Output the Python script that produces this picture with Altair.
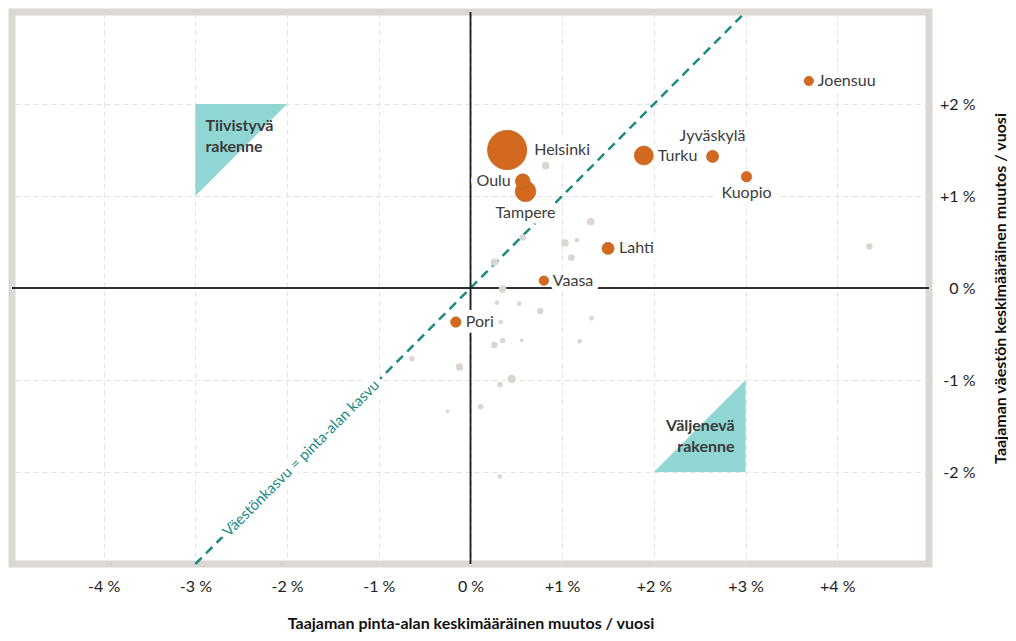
import altair as alt
import pandas as pd

# ---- data ----
CITY_NAMES = ["Helsinki", "Tampere", "Oulu", "Turku", "Jyväskylä", "Kuopio",
              "Lahti", "Vaasa", "Pori", "Joensuu"]
CITY_AREA_CHANGE = [0.40, 0.60, 0.57, 1.89, 2.64, 3.01, 1.50, 0.80, -0.16, 3.69]
CITY_POP_CHANGE = [1.50, 1.05, 1.16, 1.44, 1.43, 1.21, 0.43, 0.08, -0.37, 2.25]
CITY_POP = [1200, 330, 170, 280, 115, 85, 115, 70, 85, 70]

OTHER_AREA_CHANGE = [0.82, 1.31, 0.57, 1.03, 1.16, 1.10, 0.26, 0.35, 4.35, 0.29,
                     0.53, 0.76, 1.32, 0.33, 0.26, 0.35, 0.56, 1.19, -0.64, -0.12,
                     0.45, 0.32, 0.11, -0.25, 0.32]
OTHER_POP_CHANGE = [1.33, 0.72, 0.55, 0.49, 0.52, 0.33, 0.28, -0.01, 0.45, -0.16,
                    -0.17, -0.25, -0.33, -0.37, -0.62, -0.57, -0.57, -0.58, -0.77, -0.86,
                    -0.99, -1.05, -1.29, -1.34, -2.05]
OTHER_POP = [44, 44, 33, 44, 17, 33, 44, 44, 33, 17,
             17, 33, 17, 17, 33, 24, 11, 17, 24, 44,
             55, 24, 24, 11, 17]

DIAG_X = [-3, 3]
DIAG_Y = [-3, 3]
DIAG_LABEL = "Väestönkasvu = pinta-alan kasvu"
DIAG_LABEL_AT = [-1.85]

TRI_ID = ["dense", "dense", "sparse", "sparse"]
TRI_X = [-3, -2, 2, 3]
TRI_Y = [2, 2, -2, -2]
TRI_Y2 = [1, 2, -2, -1]
TRI_LABELS = ["Tiivistyvä\nrakenne", "Väljenevä\nrakenne"]
TRI_LABEL_X = [-3, 3]
TRI_LABEL_Y = [2, -2]

X_TICKS = [-4, -3, -2, -1, 0, 1, 2, 3, 4]
X_TICK_LABELS = ["-4 %", "-3 %", "-2 %", "-1 %", "0 %", "+1 %", "+2 %", "+3 %", "+4 %"]
Y_TICKS = [-2, -1, 0, 1, 2]
Y_TICK_LABELS = ["-2 %", "-1 %", "0 %", "+1 %", "+2 %"]
X_TITLE = "Taajaman pinta-alan keskimääräinen muutos / vuosi"
Y_TITLE = "Taajaman väestön keskimääräinen muutos / vuosi"

# ---- styling ----
FONT = "Lato"
ORANGE = "#d2691e"
GREY_PT = "#dbd6d1"
TEAL = "#1d8a84"
TRI_FILL = "#90d6d3"
FRAME = "#dcd7d1"
W, H = 917, 552

cities = pd.DataFrame({"name": CITY_NAMES, "x": CITY_AREA_CHANGE,
                       "y": CITY_POP_CHANGE, "pop": CITY_POP})
others = pd.DataFrame({"x": OTHER_AREA_CHANGE, "y": OTHER_POP_CHANGE, "pop": OTHER_POP})
diag = pd.DataFrame({"x": DIAG_X, "y": DIAG_Y})
diag_lab = pd.DataFrame({"x": DIAG_LABEL_AT, "y": DIAG_LABEL_AT, "t": [DIAG_LABEL]})
tri = pd.DataFrame({"id": TRI_ID, "x": TRI_X, "y": TRI_Y, "y2": TRI_Y2})
tri_lab = pd.DataFrame({"t": TRI_LABELS, "x": TRI_LABEL_X, "y": TRI_LABEL_Y})


def label_expr(ticks, labels):
    expr = "''"
    for t, l in reversed(list(zip(ticks, labels))):
        expr = f"datum.value == {t} ? '{l}' : ({expr})"
    return expr


xscale = alt.Scale(domain=[-5, 5], nice=False, zero=False)
yscale = alt.Scale(domain=[-3, 3], nice=False, zero=False)
xaxis = alt.Axis(values=X_TICKS, labelExpr=label_expr(X_TICKS, X_TICK_LABELS),
                 grid=True, gridDash=[5, 4], gridColor="#e2e2e2", gridWidth=1,
                 domain=False, ticks=False, labelPadding=14, labelFontSize=16,
                 labelFont=FONT, labelColor="#222222", title=X_TITLE,
                 titleFont=FONT, titleFontSize=16, titleFontWeight="bold",
                 titleColor="#111111", titleX=W / 2, titleY=59,
                 titleBaseline="middle", titleAlign="center")
yaxis = alt.Axis(values=Y_TICKS, labelExpr=label_expr(Y_TICKS, Y_TICK_LABELS),
                 orient="right", grid=True, gridDash=[5, 4], gridColor="#e2e2e2",
                 gridWidth=1, domain=False, ticks=False, labelPadding=46,
                 labelAlign="right", labelFontSize=16, labelFont=FONT,
                 labelColor="#222222", title=Y_TITLE, titleFont=FONT,
                 titleFontSize=16, titleFontWeight="bold", titleColor="#111111",
                 titleAngle=270, titleX=71, titleY=H / 2, titleBaseline="middle",
                 titleAlign="center")


def X(f="x"):
    return alt.X(f, type="quantitative", scale=xscale, axis=xaxis)


def Y(f="y"):
    return alt.Y(f, type="quantitative", scale=yscale, axis=yaxis)


size_scale = alt.Scale(type="linear", domain=[0, 1200], range=[0, 1550], zero=True)

triangles = alt.Chart(tri).mark_area(color=TRI_FILL, opacity=1).encode(
    x=X(), y=Y(), y2="y2:Q", detail="id:N")

tri_text_a = alt.Chart(tri_lab).transform_filter("datum.x < 0").mark_text(
    font=FONT, fontSize=16, fontWeight="bold", color="#3a3a3a",
    lineBreak="\n", lineHeight=21, align="left", baseline="top", dx=10, dy=14
).encode(x=X(), y=Y(), text="t:N")
tri_text_b = alt.Chart(tri_lab).transform_filter("datum.x > 0").mark_text(
    font=FONT, fontSize=16, fontWeight="bold", color="#3a3a3a",
    lineBreak="\n", lineHeight=21, align="right", baseline="top", dx=-11, dy=-54
).encode(x=X(), y=Y(), text="t:N")

diag_line = alt.Chart(diag).mark_line(color=TEAL, strokeWidth=2.5,
                                      strokeDash=[9, 6]).encode(x=X(), y=Y())

zero_v = alt.Chart(diag).mark_rule(color="#222222", strokeWidth=1.5).encode(
    x=alt.datum(0))
zero_h = alt.Chart(diag).mark_rule(color="#222222", strokeWidth=1.5).encode(
    y=alt.datum(0))

# label placements (style): align, dx, dy
PLACE = {
    "Helsinki": ("left", 27, 0),
    "Tampere": ("center", 0, 22),
    "Oulu": ("right", -12, 0),
    "Turku": ("left", 14, 0),
    "Jyväskylä": ("center", 0, -20),
    "Kuopio": ("center", 0, 16),
    "Lahti": ("left", 11, 0),
    "Vaasa": ("left", 9, 0),
    "Pori": ("left", 10, 0),
    "Joensuu": ("left", 9, 0),
}

halo_layers = []
text_layers = []
for name, (al, dx, dy) in PLACE.items():
    base = alt.Chart(cities).transform_filter(alt.datum.name == name)
    halo_layers.append(base.mark_text(
        font=FONT, fontSize=16, align=al, dx=dx, dy=dy, baseline="middle",
        color="white", stroke="white", strokeWidth=12, strokeJoin="round"
    ).encode(x=X(), y=Y(), text="name:N"))
    text_layers.append(base.mark_text(
        font=FONT, fontSize=16, align=al, dx=dx, dy=dy, baseline="middle",
        color="#3c3c3c"
    ).encode(x=X(), y=Y(), text="name:N"))

diag_halo = alt.Chart(diag_lab).mark_text(
    font=FONT, fontSize=15, angle=315, align="center", baseline="middle",
    color="white", stroke="white", strokeWidth=12, strokeJoin="round"
).encode(x=X(), y=Y(), text="t:N")
diag_text = alt.Chart(diag_lab).mark_text(
    font=FONT, fontSize=15, angle=315, align="center", baseline="middle",
    color=TEAL
).encode(x=X(), y=Y(), text="t:N")

grey_pts = alt.Chart(others).mark_circle(color=GREY_PT, opacity=1).encode(
    x=X(), y=Y(), size=alt.Size("pop:Q", scale=size_scale, legend=None))
orange_pts = alt.Chart(cities).mark_circle(
    color=ORANGE, opacity=1, stroke="#b95c18", strokeWidth=0.6
).encode(x=X(), y=Y(), size=alt.Size("pop:Q", scale=size_scale, legend=None))

chart = alt.layer(
    triangles, tri_text_a, tri_text_b, diag_line, zero_v, zero_h,
    *halo_layers, diag_halo, diag_text, grey_pts, orange_pts, *text_layers
).properties(
    width=W, height=H,
    autosize=alt.AutoSizeParams(type="none"),
    padding={"left": 4, "top": 4, "right": 79, "bottom": 68},
    background="white",
).configure_view(
    stroke=FRAME, strokeWidth=7
)

chart.save("out.html", embed_options={"renderer": "svg", "actions": False})
